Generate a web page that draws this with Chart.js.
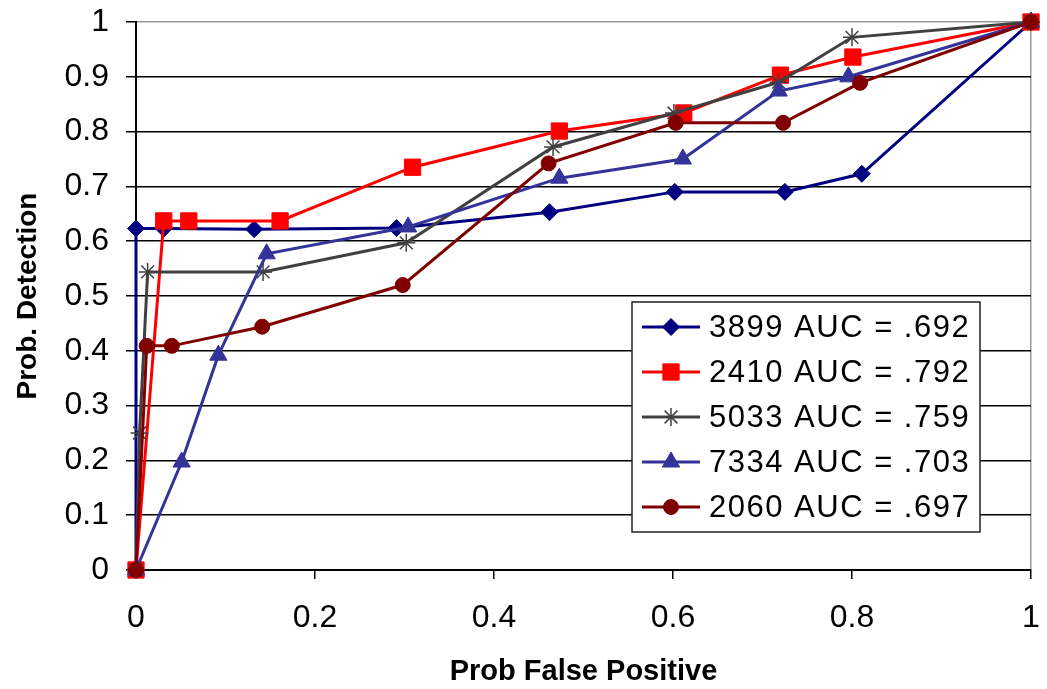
<!DOCTYPE html>
<html>
<head>
<meta charset="utf-8">
<script src="https://cdn.jsdelivr.net/npm/chart.js@4/dist/chart.umd.min.js"></script>
<style>
  html, body { margin: 0; padding: 0; background: #fff; }
  #wrap { width: 1047px; height: 689px; }
</style>
</head>
<body>
<div id="wrap"><canvas id="rocChart"></canvas></div>
<script>
// series names as in the legend
const seriesNames = ['3899 AUC = .692', '2410 AUC = .792', '5033 AUC = .759', '7334 AUC = .703', '2060 AUC = .697'];

// prob false positive / prob detection per series
const fp3899 = [0, 0, 0.031, 0.132, 0.291, 0.462, 0.602, 0.725, 0.811, 1];
const pd3899 = [0, 0.623, 0.623, 0.622, 0.624, 0.653, 0.690, 0.690, 0.723, 1];

const fp2410 = [0, 0.031, 0.059, 0.161, 0.309, 0.473, 0.612, 0.720, 0.801, 1];
const pd2410 = [0, 0.637, 0.637, 0.637, 0.735, 0.801, 0.834, 0.903, 0.936, 1];

const fp5033 = [0, 0.004, 0.013, 0.142, 0.302, 0.466, 0.601, 0.718, 0.800, 1];
const pd5033 = [0, 0.250, 0.544, 0.544, 0.597, 0.772, 0.834, 0.890, 0.972, 1];

const fp7334 = [0, 0.051, 0.092, 0.146, 0.304, 0.473, 0.611, 0.718, 0.796, 1];
const pd7334 = [0, 0.197, 0.392, 0.577, 0.626, 0.715, 0.750, 0.874, 0.900, 1];

const fp2060 = [0, 0.012, 0.040, 0.141, 0.298, 0.461, 0.603, 0.723, 0.809, 1];
const pd2060 = [0, 0.409, 0.409, 0.444, 0.520, 0.742, 0.816, 0.816, 0.889, 1];

const seriesColors = ['#000080', '#ff0000', '#404040', '#333399', '#800000'];
const seriesMarkers = ['rectRot', 'rect', 'star', 'triangle', 'circle'];
const markerSizes = [8.5, 11.5, 9, 10, 7.5];

const fontFam = '"Liberation Sans", Arial, sans-serif';

function pairUp(xs, ys) {
    return xs.map((x, i) => ({ x: x, y: ys[i] }));
}

const allX = [fp3899, fp2410, fp5033, fp7334, fp2060];
const allY = [pd3899, pd2410, pd5033, pd7334, pd2060];

const datasets = seriesNames.map((name, i) => ({
    label: name,
    data: pairUp(allX[i], allY[i]),
    borderColor: seriesColors[i],
    backgroundColor: seriesColors[i],
    pointBackgroundColor: seriesColors[i],
    pointBorderColor: seriesColors[i],
    pointStyle: seriesMarkers[i],
    pointRadius: markerSizes[i],
    pointBorderWidth: seriesMarkers[i] === 'star' ? 1.5 : 1,
    borderWidth: 3,
    tension: 0,
    fill: false,
    clip: false,                    // markers on the axes are drawn whole
    order: seriesNames.length - i   // later series on top like the original
}));

// legend box drawn inside the plot area
const boxLegend = {
    id: 'boxLegend',
    afterDatasetsDraw(chart) {
        const ctx = chart.ctx;
        const area = chart.chartArea;
        const left = area.right - 399;
        const top = area.top + 280;
        const w = 348, h = 230;
        ctx.save();
        ctx.fillStyle = '#fff';
        ctx.fillRect(left, top, w, h);
        ctx.strokeStyle = '#222';
        ctx.lineWidth = 1.5;
        ctx.strokeRect(left, top, w, h);
        ctx.font = '31px ' + fontFam;
        ctx.letterSpacing = '1.5px';
        ctx.textBaseline = 'middle';
        chart.data.datasets.forEach((ds, i) => {
            const cy = top + 25 + i * 45;
            const x0 = left + 10, x1 = left + 68;
            ctx.strokeStyle = ds.borderColor;
            ctx.lineWidth = 3;
            ctx.beginPath();
            ctx.moveTo(x0, cy);
            ctx.lineTo(x1, cy);
            ctx.stroke();
            ctx.fillStyle = ds.pointBackgroundColor;
            ctx.strokeStyle = ds.pointBorderColor;
            ctx.lineWidth = ds.pointBorderWidth;
            Chart.helpers.drawPoint(ctx, { pointStyle: ds.pointStyle, radius: ds.pointRadius, borderWidth: ds.pointBorderWidth, rotation: 0 }, (x0 + x1) / 2, cy);
            ctx.fillStyle = '#000';
            ctx.fillText(ds.label, left + 77, cy + 1);
        });
        ctx.restore();
    }
};

const tickFmt = v => String(+v.toFixed(2));

// drop the label overhang padding so the layout padding alone sets the plot edges
function noOverhang(s) {
    s.paddingTop = 0;
    s.paddingBottom = 0;
    s.paddingLeft = 0;
    s.paddingRight = 0;
}

const ctx = document.getElementById('rocChart').getContext('2d');
new Chart(ctx, {
    type: 'line',
    data: { datasets: datasets },
    plugins: [boxLegend],
    options: {
        responsive: true,
        maintainAspectRatio: false,
        animation: false,
        layout: { padding: { top: 22, right: 16, bottom: 0, left: 0 } },
        plugins: {
            legend: { display: false },
            tooltip: { enabled: false }
        },
        scales: {
            x: {
                type: 'linear',
                min: 0,
                max: 1,
                ticks: {
                    stepSize: 0.2,
                    color: '#000',
                    font: { family: fontFam, size: 32 },
                    padding: 20,
                    callback: tickFmt
                },
                grid: {
                    drawOnChartArea: true,
                    color: c => (c.tick && c.tick.value === 1) ? '#999' : 'rgba(0,0,0,0)',
                    tickColor: '#000',
                    tickLength: 9,
                    lineWidth: 1.5
                },
                border: { color: '#000', width: 2 },
                title: {
                    display: true,
                    text: 'Prob False Positive',
                    color: '#000',
                    font: { family: fontFam, size: 29, weight: 'bold' },
                    padding: { top: 0, bottom: 0 }
                },
                afterFit: s => { s.height = 119; noOverhang(s); }
            },
            y: {
                type: 'linear',
                min: 0,
                max: 1,
                ticks: {
                    stepSize: 0.1,
                    color: '#000',
                    font: { family: fontFam, size: 32 },
                    padding: 17,
                    callback: tickFmt
                },
                grid: {
                    color: c => (c.tick && c.tick.value === 1) ? '#999' : '#000',
                    tickColor: '#000',
                    tickLength: 10,
                    lineWidth: 1.5
                },
                border: { color: '#000', width: 2 },
                title: {
                    display: true,
                    text: 'Prob. Detection',
                    color: '#000',
                    font: { family: fontFam, size: 28, weight: 'bold' },
                    padding: { top: 11, bottom: 0 }
                },
                afterFit: s => { s.width = 136; noOverhang(s); }
            }
        }
    }
});
</script>
</body>
</html>
